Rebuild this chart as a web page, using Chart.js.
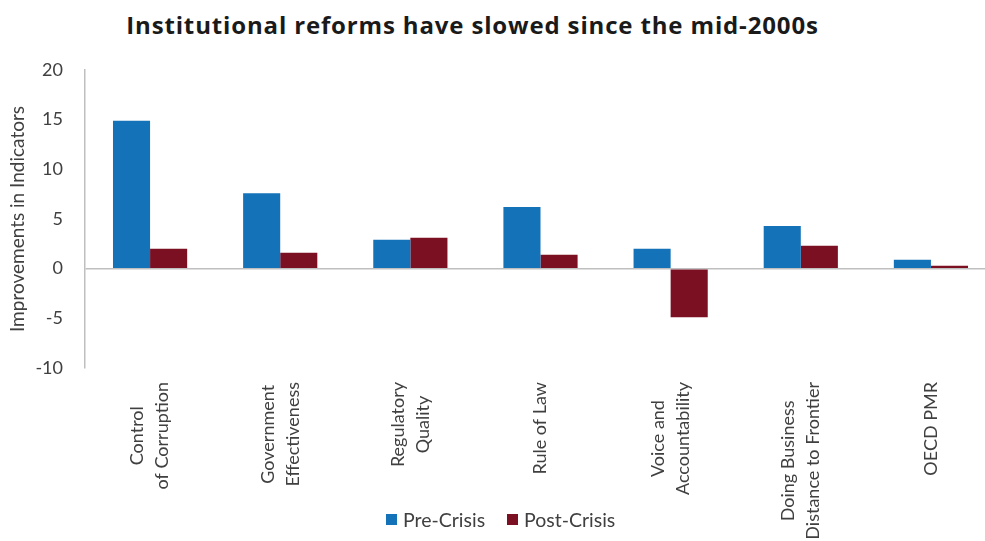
<!DOCTYPE html>
<html>
<head>
<meta charset="utf-8">
<title>Institutional reforms</title>
<script src="https://cdn.jsdelivr.net/npm/chart.js@4"></script>
<style>
  html, body { margin: 0; padding: 0; background: #fff; overflow: hidden; }
  #wrap { position: relative; width: 985px; height: 541px; overflow: hidden; }
  #box { position: absolute; left: 0; top: 0; width: 1000px; height: 541px; }
  #title {
    position: absolute; left: 0; top: 11px; width: 945px; text-align: center;
    font: bold 24px "Open Sans", sans-serif; color: #1a1a1a; line-height: 28px;
    letter-spacing: 0.85px;
  }
  #legend {
    position: absolute; left: 386px; top: 508px; display: flex; gap: 22px;
    font: 19.5px Lato, sans-serif; color: #404040;
  }
  #legend span.item { display: flex; align-items: center; }
  #legend span.sw { width: 11px; height: 11px; margin-right: 6px; display: inline-block; }
</style>
</head>
<body>
<div id="wrap">
  <div id="title">Institutional reforms have slowed since the mid-2000s</div>
  <div id="box"><canvas id="chart"></canvas></div>
  <div id="legend"></div>
</div>
<script>
  // indicator names, split the way they wrap under the axis
  const categories = [
    ["Control", "of Corruption"],
    ["Government", "Effectiveness"],
    ["Regulatory", "Quality"],
    ["Rule of Law"],
    ["Voice and", "Accountability"],
    ["Doing Business", "Distance to Frontier"],
    ["OECD PMR"],
  ];
  const preCrisis = [14.9, 7.6, 2.9, 6.2, 2.0, 4.3, 0.9];
  const postCrisis = [2.0, 1.6, 3.1, 1.4, -4.9, 2.3, 0.3];
  const yTicks = [-10, -5, 0, 5, 10, 15, 20];

  const seriesNames = ["Pre-Crisis", "Post-Crisis"];
  const colorBlue = "#1372b8";
  const colorMaroon = "#7b1023";
  const colorAxis = "#bfbfbf";
  const colorText = "#404040";

  // rotated, centred multi-line category labels
  const xLabels = {
    id: "xLabels",
    afterDraw(chart) {
      const ctx = chart.ctx;
      const xs = chart.scales.x;
      ctx.save();
      ctx.font = "18px Lato, sans-serif";
      ctx.fillStyle = colorText;
      ctx.textAlign = "center";
      ctx.textBaseline = "middle";
      const lineH = 25;
      categories.forEach((lines, i) => {
        const x = xs.getPixelForTick(i);
        const maxW = Math.max(...lines.map((l) => ctx.measureText(l).width));
        ctx.save();
        ctx.translate(x, xs.top + 14);
        ctx.rotate(-Math.PI / 2);
        lines.forEach((l, j) => {
          ctx.fillText(l, -maxW / 2, (j - (lines.length - 1) / 2) * lineH);
        });
        ctx.restore();
      });
      ctx.restore();
    },
  };

  const ctx = document.getElementById("chart").getContext("2d");
  new Chart(ctx, {
    type: "bar",
    data: {
      labels: categories,
      datasets: [
        { label: seriesNames[0], data: preCrisis, backgroundColor: colorBlue },
        { label: seriesNames[1], data: postCrisis, backgroundColor: colorMaroon },
      ],
    },
    options: {
      responsive: true,
      maintainAspectRatio: false,
      animation: false,
      layout: { padding: { top: 70, right: 4, left: 0, bottom: 0 } },
      datasets: { bar: { categoryPercentage: 0.57, barPercentage: 1.0 } },
      plugins: { legend: { display: false }, tooltip: { enabled: false } },
      scales: {
        x: {
          grid: { display: false },
          border: { display: false },
          ticks: { display: false, autoSkip: false },
          afterFit: (s) => { s.height = 173; },
        },
        y: {
          min: yTicks[0],
          max: yTicks[yTicks.length - 1],
          afterBuildTicks: (s) => { s.ticks = yTicks.map((v) => ({ value: v })); },
          grid: {
            drawTicks: false,
            color: (c) => (c.tick && c.tick.value === 0 ? colorAxis : "transparent"),
            lineWidth: 1.5,
          },
          border: { display: true, color: colorAxis, width: 1.5 },
          ticks: { padding: 22, color: colorText, font: { family: "Lato", size: 18 } },
          title: {
            display: true,
            text: "Improvements in Indicators",
            color: colorText,
            font: { family: "Lato", size: 19 },
            padding: { top: 6, bottom: 0 },
          },
          afterFit: (s) => { s.width = 85; },
        },
      },
    },
    plugins: [xLabels],
  });

  // legend below the plot
  const legend = document.getElementById("legend");
  [colorBlue, colorMaroon].forEach((c, i) => {
    const item = document.createElement("span");
    item.className = "item";
    item.innerHTML = '<span class="sw" style="background:' + c + '"></span>' + seriesNames[i];
    legend.appendChild(item);
  });
</script>
</body>
</html>
